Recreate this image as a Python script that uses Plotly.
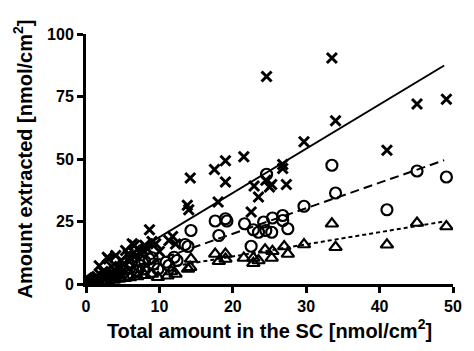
import plotly.graph_objects as go

# Crosses (series 1)
x1 = [0.2, 0.4, 0.6, 0.8, 1.0, 1.2, 1.5, 1.8, 2.0, 2.3, 2.6, 2.9, 3.1, 3.5, 4.05, 4.3, 4.8, 5.4, 5.75,
      6.0, 6.3, 6.6, 7.0, 7.5, 8.0, 8.65, 9.0, 9.5, 10.0, 11.3, 11.8, 12.2, 13.8, 14.0, 14.2, 17.5,
      18.0, 19.0, 19.0, 21.5, 22.5, 22.9, 23.5, 24.5, 24.6, 25.0, 25.3, 26.8, 26.8, 27.3, 29.7,
      33.5, 34.0, 41.0, 45.1, 49.1,
      0.5, 1.1, 1.6, 2.4, 3.3, 3.9, 4.6, 5.1, 5.9, 6.8, 7.8, 8.4]
y1 = [0.3, 0.8, 1.2, 1.5, 2.0, 2.5, 3.0, 7.3, 3.5, 5.0, 4.2, 10.7, 10.0, 7.0, 11.4, 6.5, 9.5, 13.4, 12.0,
      10.5, 16.1, 15.5, 14.0, 12.0, 15.5, 21.7, 17.0, 16.1, 13.0, 17.4, 19.0, 16.0, 31.5, 29.7, 42.4, 45.8,
      32.8, 49.3, 40.8, 50.9, 28.8, 39.2, 34.8, 41.5, 83.0, 38.8, 39.8, 47.8, 46.2, 39.8, 56.9,
      90.4, 65.3, 53.5, 72.0, 73.9,
      1.0, 1.5, 2.2, 3.0, 4.0, 5.5, 6.0, 8.0, 9.0, 11.5, 13.5, 14.0]

# Circles (series 2)
x2 = [0.3, 0.8, 1.5, 2.2, 3.0, 3.8, 4.5, 5.2, 6.0, 6.2, 6.8, 7.3, 8.0, 8.6, 9.2, 9.8, 10.9, 11.3,
      12.0, 12.4, 13.5, 13.9, 14.3, 17.6, 18.1, 19.0, 19.2, 21.6, 22.5, 22.8, 23.5, 24.2, 24.5,
      24.6, 25.3, 25.4, 26.8, 26.8, 27.5, 29.7, 33.5, 34.0, 41.0, 45.1, 49.1,
      1.2, 2.6, 3.4, 4.1, 5.6, 7.0, 7.8, 9.0]
y2 = [0.3, 0.8, 1.5, 2.0, 3.0, 3.5, 4.5, 5.0, 6.5, 8.7, 5.5, 7.5, 9.0, 10.0, 8.0, 6.0, 8.7, 7.4,
      10.7, 9.4, 15.8, 15.0, 21.4, 25.2, 19.4, 26.1, 25.2, 24.1, 15.1, 21.7, 20.7, 24.8, 21.4,
      43.9, 20.7, 26.4, 27.4, 25.4, 22.1, 31.1, 47.5, 36.4, 29.7, 45.2, 42.8,
      0.8, 1.8, 2.5, 3.0, 4.0, 5.0, 6.0, 10.5]

# Triangles (series 3)
x3 = [0.3, 0.8, 1.5, 2.3, 3.0, 3.8, 4.5, 5.3, 6.0, 7.0, 8.0, 9.0, 9.8, 11.1, 11.6, 12.2, 13.9, 14.2,
      14.3, 17.6, 18.1, 19.0, 19.0, 21.5, 22.8, 22.8, 23.5, 24.4, 25.3, 25.4, 27.0, 27.5, 29.7,
      33.5, 34.0, 41.0, 45.1, 49.1]
y3 = [0.1, 0.4, 0.7, 1.0, 1.3, 1.6, 2.0, 2.3, 2.6, 3.0, 3.5, 4.0, 2.7, 3.3, 5.0, 4.0, 6.0, 6.7,
      10.0, 12.0, 9.1, 12.0, 10.0, 10.4, 10.4, 8.3, 9.4, 13.7, 10.4, 13.1, 15.0, 12.0, 15.8,
      24.1, 14.7, 15.7, 24.4, 23.0]

# Regression lines (endpoints)
line_x = [0.0, 48.8]
line1_y = [1.0, 87.4]
line2_y = [-0.3, 49.5]
line3_y = [1.3, 25.0]

x_ticks = [0, 10, 20, 30, 40, 50]
x_labels = ["0", "10", "20", "30", "40", "50"]
y_ticks = [0, 25, 50, 75, 100]
y_labels = ["0", "25", "50", "75", "100"]

fig = go.Figure()
fig.add_trace(go.Scatter(x=x1, y=y1, mode="markers",
                         marker=dict(symbol="x-thin", size=10, color="black",
                                     line=dict(width=3, color="black"))))
fig.add_trace(go.Scatter(x=x2, y=y2, mode="markers",
                         marker=dict(symbol="circle-open", size=11, color="black",
                                     line=dict(width=2.2, color="black"))))
fig.add_trace(go.Scatter(x=x3, y=y3, mode="markers",
                         marker=dict(symbol="triangle-up-open", size=11, color="black",
                                     line=dict(width=2.2, color="black"))))
fig.add_trace(go.Scatter(x=line_x, y=line1_y, mode="lines",
                         line=dict(color="black", width=2, dash="solid")))
fig.add_trace(go.Scatter(x=line_x, y=line2_y, mode="lines",
                         line=dict(color="black", width=2, dash="9px,5px")))
fig.add_trace(go.Scatter(x=line_x, y=line3_y, mode="lines",
                         line=dict(color="black", width=2, dash="4px,3px")))

font_family = "Liberation Sans, Arial, sans-serif"
fig.update_layout(
    width=474, height=351,
    margin=dict(l=86, r=13, t=34, b=67),
    plot_bgcolor="white", paper_bgcolor="white",
    showlegend=False,
    font=dict(family=font_family, color="black"),
)
fig.update_xaxes(range=[0, 50], tickvals=x_ticks, ticktext=["<b>%s</b>" % t for t in x_labels],
                 ticks="outside", ticklen=6, tickwidth=2.5,
                 tickcolor="black", showline=True, linewidth=3, linecolor="black",
                 showgrid=False, zeroline=False,
                 tickfont=dict(size=16, family=font_family),
                 title=dict(text="<b>Total amount in the SC [nmol/cm<sup>2</sup>]</b>",
                            font=dict(size=20, family=font_family), standoff=10))
fig.update_yaxes(range=[0, 100], tickvals=y_ticks, ticktext=["<b>%s</b>" % t for t in y_labels],
                 ticks="outside", ticklen=6, tickwidth=2.5,
                 tickcolor="black", showline=True, linewidth=3, linecolor="black",
                 showgrid=False, zeroline=False,
                 tickfont=dict(size=16, family=font_family),
                 title=dict(text="<b>Amount extracted [nmol/cm<sup>2</sup>]</b>",
                            font=dict(size=20, family=font_family), standoff=10))

fig.write_html("out.html")
